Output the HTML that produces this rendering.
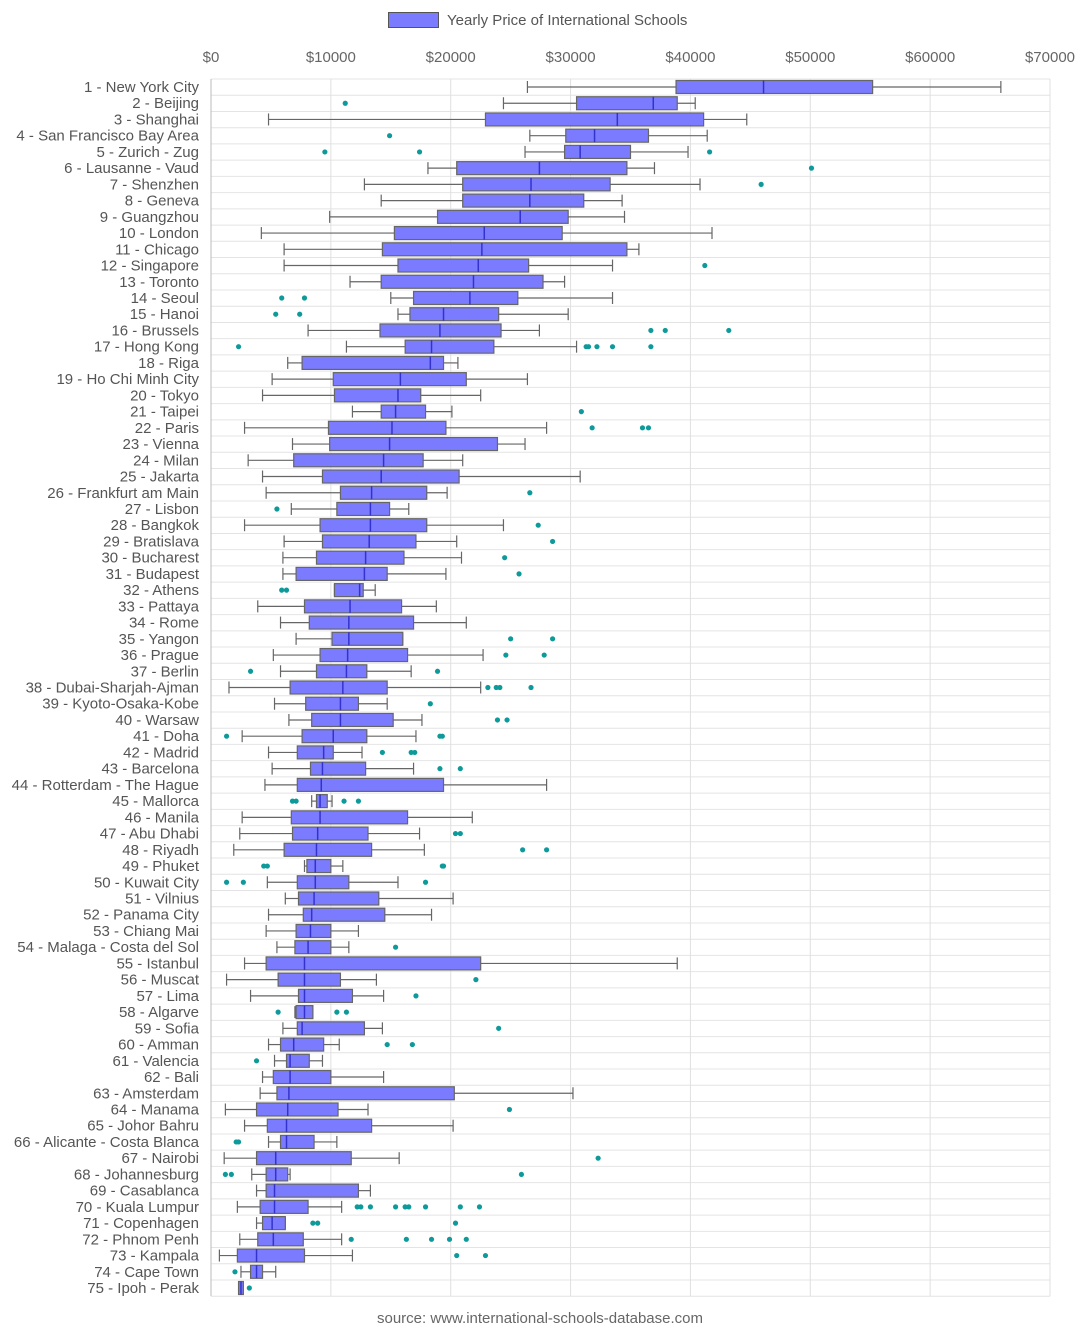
<!DOCTYPE html>
<html><head><meta charset="utf-8"><style>
body{margin:0;background:#fff;}
svg{display:block;font-family:"Liberation Sans",sans-serif;}
</style></head><body>
<svg id="chart" width="1080" height="1341"></svg>
<script>
const categories=["New York City","Beijing","Shanghai","San Francisco Bay Area","Zurich - Zug","Lausanne - Vaud","Shenzhen","Geneva","Guangzhou","London","Chicago","Singapore","Toronto","Seoul","Hanoi","Brussels","Hong Kong","Riga","Ho Chi Minh City","Tokyo","Taipei","Paris","Vienna","Milan","Jakarta","Frankfurt am Main","Lisbon","Bangkok","Bratislava","Bucharest","Budapest","Athens","Pattaya","Rome","Yangon","Prague","Berlin","Dubai-Sharjah-Ajman","Kyoto-Osaka-Kobe","Warsaw","Doha","Madrid","Barcelona","Rotterdam - The Hague","Mallorca","Manila","Abu Dhabi","Riyadh","Phuket","Kuwait City","Vilnius","Panama City","Chiang Mai","Malaga - Costa del Sol","Istanbul","Muscat","Lima","Algarve","Sofia","Amman","Valencia","Bali","Amsterdam","Manama","Johor Bahru","Alicante - Costa Blanca","Nairobi","Johannesburg","Casablanca","Kuala Lumpur","Copenhagen","Phnom Penh","Kampala","Cape Town","Ipoh - Perak"];
// [low whisker, q1, median, q3, high whisker] in thousands USD
const stats=[[26.4,38.8,46.1,55.2,65.9],[24.4,30.5,36.9,38.9,40.4],[4.8,22.9,33.9,41.1,44.7],[26.6,29.6,32.0,36.5,41.4],[26.2,29.5,30.8,35.0,39.8],[18.1,20.5,27.4,34.7,37.0],[12.8,21.0,26.7,33.3,40.8],[14.2,21.0,26.6,31.1,34.3],[9.9,18.9,25.8,29.8,34.5],[4.2,15.3,22.8,29.3,41.8],[6.1,14.3,22.6,34.7,35.7],[6.1,15.6,22.3,26.5,33.5],[11.6,14.2,21.9,27.7,29.5],[15.0,16.9,21.6,25.6,33.5],[15.6,16.6,19.4,24.0,29.8],[8.1,14.1,19.1,24.2,27.4],[11.3,16.2,18.4,23.6,30.5],[6.4,7.6,18.3,19.4,20.6],[5.1,10.2,15.8,21.3,26.4],[4.3,10.3,15.6,17.5,22.5],[11.8,14.2,15.4,17.9,20.1],[2.8,9.8,15.1,19.6,28.0],[6.8,9.9,14.9,23.9,26.2],[3.1,6.9,14.4,17.7,21.0],[4.3,9.3,14.2,20.7,30.8],[4.6,10.8,13.4,18.0,19.7],[6.7,10.5,13.3,14.9,16.5],[2.8,9.1,13.3,18.0,24.4],[6.1,9.3,13.2,17.1,20.5],[6.0,8.8,12.9,16.1,20.9],[6.0,7.1,12.8,14.7,19.6],[10.3,10.3,12.4,12.7,13.7],[3.9,7.8,11.6,15.9,18.8],[5.8,8.2,11.5,16.9,21.3],[7.1,10.1,11.5,16.0,16.0],[5.2,9.1,11.4,16.4,22.7],[5.8,8.8,11.3,13.0,16.7],[1.5,6.6,11.0,14.7,22.5],[5.3,7.9,10.8,12.3,14.7],[6.5,8.4,10.8,15.2,17.6],[2.6,7.6,10.2,13.0,17.1],[4.8,7.2,9.4,10.2,12.6],[5.1,8.3,9.3,12.9,16.9],[4.5,7.2,9.2,19.4,28.0],[8.4,8.8,9.1,9.7,10.1],[2.6,6.7,9.1,16.4,21.8],[2.4,6.8,8.9,13.1,17.4],[1.9,6.1,8.8,13.4,17.8],[7.8,8.0,8.7,10.0,11.0],[4.7,7.2,8.7,11.5,15.6],[6.2,7.3,8.6,14.0,20.2],[4.8,7.7,8.4,14.5,18.4],[4.6,7.1,8.3,10.0,12.3],[5.5,7.0,8.1,10.0,11.5],[2.8,4.6,7.8,22.5,38.9],[1.3,5.6,7.8,10.8,13.8],[3.3,7.3,7.8,11.8,14.4],[7.0,7.1,7.8,8.5,8.5],[6.0,7.2,7.6,12.8,14.3],[4.8,5.8,6.9,9.4,10.7],[5.3,6.3,6.6,8.2,9.3],[4.3,5.2,6.6,10.0,14.4],[4.1,5.5,6.5,20.3,30.2],[1.2,3.8,6.4,10.6,13.1],[2.8,4.7,6.3,13.4,20.2],[4.8,5.8,6.3,8.6,10.5],[1.1,3.8,5.4,11.7,15.7],[3.4,4.6,5.4,6.4,6.6],[3.8,4.6,5.3,12.3,13.3],[2.2,4.1,5.3,8.1,10.9],[3.8,4.3,5.1,6.2,6.2],[2.4,3.9,5.2,7.7,10.9],[0.7,2.2,3.8,7.8,11.8],[2.5,3.3,3.8,4.3,5.4],[2.3,2.3,2.5,2.7,2.7]];
const outliers=[[],[11.2],[],[14.9],[9.5,17.4,41.6],[50.1],[45.9],[],[],[],[],[41.2],[],[5.9,7.8],[5.4,7.4],[36.7,37.9,43.2],[2.3,31.3,31.5,32.2,33.5,36.7],[],[],[],[30.9],[31.8,36.0,36.5],[],[],[],[26.6],[5.5],[27.3],[28.5],[24.5],[25.7],[5.9,6.3],[],[],[25.0,28.5],[24.6,27.8],[3.3,18.9],[23.1,23.8,24.1,26.7],[18.3],[23.9,24.7],[1.3,19.1,19.3],[14.3,16.7,17.0],[19.1,20.8],[],[6.8,7.1,11.1,12.3],[],[20.4,20.8],[26.0,28.0],[4.4,4.7,19.3,19.4],[1.3,2.7,17.9],[],[],[],[15.4],[],[22.1],[17.1],[5.6,10.5,11.3],[24.0],[14.7,16.8],[3.8],[],[],[24.9],[],[2.1,2.3],[32.3],[1.2,1.7,25.9],[],[12.2,12.5,13.3,15.4,16.2,16.5,17.9,20.8,22.4],[8.5,8.9,20.4],[11.7,16.3,18.4,19.9,21.3],[20.5,22.9],[2.0],[3.2]];
const ticks=[0,10,20,30,40,50,60,70];
const tickLabels=["$0","$10000","$20000","$30000","$40000","$50000","$60000","$70000"];

const NS="http://www.w3.org/2000/svg";
const svg=document.getElementById('chart');
const X0=211,X1=1050,Y0=79,STEP=16.23;
const xs=v=>X0+(v/70)*(X1-X0);
const ys=i=>87+i*STEP;
function mk(t,a,parent){const e=document.createElementNS(NS,t);for(const k in a)e.setAttribute(k,a[k]);(parent||svg).appendChild(e);return e;}
// legend
let lg=mk('g',{});


mk('rect',{x:388.5,y:12.5,width:50,height:15,fill:'#7b7bff',stroke:'#555'},lg);
let lt=mk('text',{x:447,y:25,'font-size':15,fill:'#555'},lg);lt.textContent='Yearly Price of International Schools';
// grid
const bottom=ys(74)+STEP/2;
for(let i=0;i<=75;i++){const y=Y0+i*STEP;const l=mk('line',{x1:X0,x2:X1,y1:y,y2:y,stroke:'#e4e4e4'});}
ticks.forEach((t,i)=>{const x=xs(t);
const l=mk('line',{x1:x,x2:x,y1:Y0,y2:bottom,stroke:i==0?'#bbb':'#e0e0e0'});
const tx=mk('text',{x:x,y:62,'font-size':15,fill:'#666','text-anchor':'middle'});tx.textContent=tickLabels[i];});
// boxes
categories.forEach((c,i)=>{const y=ys(i);const s=stats[i];
const lab=mk('text',{x:199,y:y+5,'font-size':15,fill:'#555','text-anchor':'end'});lab.textContent=(i+1)+' - '+c;


const g=mk('g',{});


const st='#666';
mk('line',{x1:xs(s[0]),x2:xs(s[1]),y1:y,y2:y,stroke:st,'stroke-width':1.2},g);
mk('line',{x1:xs(s[3]),x2:xs(s[4]),y1:y,y2:y,stroke:st,'stroke-width':1.2},g);
mk('line',{x1:xs(s[0]),x2:xs(s[0]),y1:y-6,y2:y+6,stroke:st,'stroke-width':1.2},g);
mk('line',{x1:xs(s[4]),x2:xs(s[4]),y1:y-6,y2:y+6,stroke:st,'stroke-width':1.2},g);
mk('rect',{x:xs(s[1]),y:y-6.5,width:Math.max(1,xs(s[3])-xs(s[1])),height:13,fill:'#7b7bff',stroke:'#666','stroke-width':1.2},g);
mk('line',{x1:xs(s[2]),x2:xs(s[2]),y1:y-6.5,y2:y+6.5,stroke:'#3333cc','stroke-width':1.5},g);
outliers[i].forEach(o=>{const d=mk('circle',{cx:xs(o),cy:y,r:2.6,fill:'#0e9a9a'},g);

});
});
const src=mk('text',{x:540,y:1323,'font-size':15,fill:'#666','text-anchor':'middle'});src.textContent='source: www.international-schools-database.com';


</script>
</body></html>
